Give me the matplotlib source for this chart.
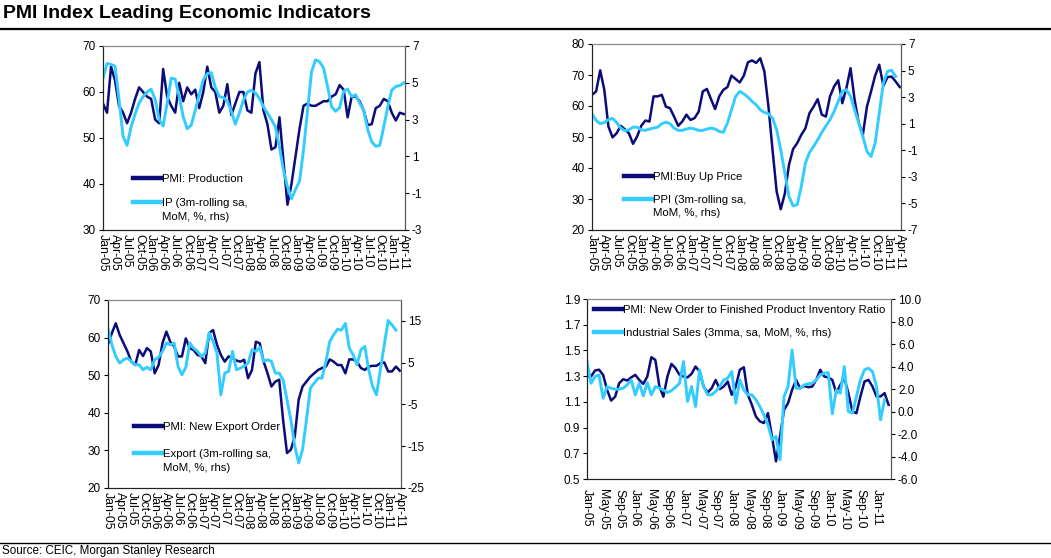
import numpy as np
import pandas as pd
import matplotlib
matplotlib.use("Agg")
import matplotlib.pyplot as plt
from matplotlib.legend import Legend

plt.rcParams['font.family'] = ['Liberation Sans', 'DejaVu Sans']
plt.rcParams['axes.unicode_minus'] = False

# monthly data, Jan-05 .. Apr-11
months = pd.date_range('2005-01-01', periods=76, freq='MS')
month_labels = [d.strftime('%b-%y') for d in months]

pmi_production = [57.5, 55.5, 65.5, 62.5, 57, 55.5, 53.2, 55.5, 58.5, 61,
                  60, 59, 58.5, 54, 53.2, 65, 59, 57, 55.5, 62,
                  58, 61, 59.5, 60.5, 56.5, 60, 65.5, 61, 60, 55.5,
                  57, 61.7, 55, 57.5, 60, 60, 56, 55.5, 64, 66.5,
                  56, 53, 47.5, 48, 54.5, 45, 35.5, 40, 46, 52,
                  57, 57.5, 57, 57, 57.5, 58, 58, 59, 59.5, 61.5,
                  60.5, 54.5, 59, 59, 58, 56, 52.8, 53, 56.5, 57,
                  58.5, 58, 55.5, 53.8, 55.5, 55.2]
ip_growth = [5.25, 6.05, 6.0, 5.9, 4.1, 2.1, 1.6, 2.6, 3.3, 3.9,
             4.25, 4.5, 4.65, 4.1, 3.0, 2.65, 3.9, 5.25, 5.2, 4.25,
             3.15, 2.5, 2.7, 3.5, 4.35, 5.15, 5.5, 5.55, 4.75, 4.25,
             4.2, 4.0, 3.45, 2.75, 3.35, 4.05, 4.5, 4.6, 4.45, 4.15,
             3.7, 3.35, 3.0, 2.6, 1.5, 0.25, -0.65, -1.3, -0.8, -0.35,
             1.35, 3.5, 5.6, 6.25, 6.15, 5.8, 4.8, 3.7, 3.45, 3.65,
             4.55, 4.65, 4.25, 4.35, 3.9, 3.5, 2.45, 1.8, 1.55, 1.6,
             2.6, 3.7, 4.6, 4.8, 4.85, 5.0]

pmi_buy_price = [63.6, 64.7, 71.5, 65.2, 53.4, 49.9, 51.2, 53.6, 52.5, 51.2,
                 47.8, 50.2, 53.6, 55.3, 55, 63.1, 63.1, 63.6, 59.8, 59.3,
                 56.6, 53.6, 55, 57.2, 55.5, 56.1, 58.2, 64.7, 65.5, 62.2,
                 59, 63.1, 65.2, 66.1, 69.8, 68.7, 67.6, 69.8, 74.1, 74.7,
                 73.9, 75.4, 71.2, 59.8, 45.8, 32.4, 26.7, 31.8, 41, 46.1,
                 48, 50.7, 52.8, 57.7, 59.8, 62.2, 57.2, 56.6, 63.1, 66.3,
                 68.3, 60.9, 65.8, 72.2, 62, 54.5, 50.7, 59.8, 64.7, 69.8,
                 73.3, 66.5, 69.3, 69.5, 67.9, 66.1]
ppi_growth = [1.75, 1.25, 1.0, 1.1, 1.3, 1.4, 1.1, 0.67, 0.47, 0.54,
              0.74, 0.74, 0.54, 0.5, 0.6, 0.67, 0.74, 1.0, 1.12, 1.0,
              0.67, 0.5, 0.5, 0.6, 0.67, 0.6, 0.5, 0.5, 0.6, 0.67,
              0.6, 0.42, 0.35, 1.05, 2.05, 3.05, 3.43, 3.25, 3.0, 2.68,
              2.43, 2.05, 1.85, 1.75, 1.42, 0.54, -0.97, -2.72, -4.48, -5.19,
              -5.1, -3.73, -1.97, -1.17, -0.71, -0.21, 0.34, 0.84, 1.3, 1.92,
              2.68, 3.43, 3.56, 3.06, 2.05, 1.05, 0.04, -1.09, -1.47, -0.46,
              1.8, 4.06, 4.94, 5.02, 4.56]

pmi_export_order = [58.3, 61.2, 63.8, 60.7, 58.5, 56.3, 53.6, 52.7, 56.7, 55.1,
                    57.2, 56.3, 50.5, 52.7, 58.5, 61.6, 58.9, 57.6, 55, 55,
                    59.8, 57.2, 56.7, 55.4, 55, 53.2, 61.2, 62, 58.1, 55.4,
                    53.6, 55, 54.5, 53.9, 53.6, 54.1, 49.2, 51.4, 58.9, 58.5,
                    53.6, 50.5, 47, 48.3, 48.8, 38.1, 29.3, 30.2, 33.7, 43.5,
                    47, 48.3, 49.6, 50.5, 51.4, 51.9, 52.3, 54.2, 53.6, 52.7,
                    52.7, 50.5, 54.2, 54.2, 53.6, 51.9, 51.4, 52.3, 52.5, 52.5,
                    53.2, 53.4, 51, 51, 52.3, 51.2]
export_growth = [13.2, 9.3, 6.5, 4.9, 5.7, 6.1, 5.3, 4.5, 4.5, 3.3,
                 3.9, 3.3, 5.7, 6.3, 7.7, 9.7, 9.3, 9.7, 4.1, 2.1,
                 3.9, 9.7, 8.5, 7.7, 6.5, 7.3, 12.1, 10.1, 7.3, -2.7,
                 2.5, 2.9, 7.7, 3.3, 3.7, 4.2, 4.9, 8.1, 7.7, 8.7,
                 5.3, 5.7, 5.3, 2.5, 2.5, 0.9, -3.9, -8.7, -15, -19,
                 -15.8, -8.7, -1.1, 0.1, 1.3, 1.3, 5.3, 10.1, 11.7, 13,
                 12.8, 14.4, 8.5, 6.9, 4.5, 8.1, 8.9, 3.3, -0.7, -2.7,
                 3.3, 9.3, 15.1, 14, 12.8]

pmi_order_inventory = [1.302, 1.297, 1.344, 1.35, 1.31, 1.193, 1.11, 1.14, 1.245, 1.276,
                       1.266, 1.29, 1.31, 1.27, 1.24, 1.297, 1.447, 1.426, 1.219, 1.14,
                       1.297, 1.395, 1.362, 1.31, 1.297, 1.29, 1.318, 1.375, 1.336, 1.219,
                       1.173, 1.206, 1.27, 1.199, 1.219, 1.258, 1.155, 1.219, 1.349, 1.369,
                       1.155, 1.077, 0.986, 0.948, 0.935, 1.012, 0.831, 0.637, 0.831, 1.038,
                       1.09, 1.193, 1.271, 1.206, 1.224, 1.214, 1.219, 1.271, 1.349, 1.297,
                       1.29, 1.271, 1.168, 1.232, 1.284, 1.168, 1.025, 1.012, 1.142, 1.258,
                       1.271, 1.219, 1.142, 1.142, 1.168, 1.077]
industrial_sales = [4.44, 2.51, 3.1, 3.25, 1.18, 2.22, 2.07, 1.98,
                    1.98, 2.07, 2.37, 2.81, 1.48, 2.51, 1.39, 2.57, 1.48, 2.22,
                    2.07, 1.92, 1.69, 1.86, 2.16, 2.51, 4.44, 0.89, 2.22, 0.44,
                    3.7, 2.22, 1.48, 1.48, 1.78, 2.22, 2.81, 2.96, 3.55, 0.74,
                    2.81, 1.92, 1.48, 1.48, 1.04, 0.44, -0.3, -1.18, -2.51, -2.22,
                    -4.29, 1.33, 2.22, 5.47, 2.07, 2.07, 2.37, 2.46, 2.51, 2.81,
                    3.25, 3.4, 3.46, -0.21, 1.92, 1.63, 3.99, 0.0, -0.15, 1.33,
                    2.81, 3.7, 3.85, 3.55, 2.22, -0.74, 1.04]

DARK = '#0b0b7a'
LIGHT = '#33ccff'
W, H = 1051, 558


def rect(l, r, t, b):
    return [l / W, 1 - b / H, (r - l) / W, (b - t) / H]


def panel(box, left, right, rows, lylim, lyticks, rylim, ryticks, step, xmax,
          legx, fmt=None, labelpad=3):
    l, r, t, b = box
    ax = fig.add_axes(rect(*box))
    ax2 = ax.twinx()
    x = np.arange(len(months))
    l1, = ax.plot(x[:len(left)], left, color=DARK, lw=1.8)
    l2, = ax2.plot(x[:len(right)], right, color=LIGHT, lw=2.1)
    ax.set_xlim(0, xmax)
    ax.set_ylim(*lylim)
    ax.set_yticks(lyticks)
    ax2.set_ylim(*rylim)
    ax2.set_yticks(ryticks)
    if fmt:
        ax.set_yticklabels([fmt % v for v in lyticks])
        ax2.set_yticklabels([fmt % v for v in ryticks])
    pos = list(range(0, len(months), step))
    ax.set_xticks(pos)
    ax.set_xticklabels([month_labels[p] for p in pos], rotation=270)
    for a in (ax, ax2):
        a.tick_params(labelsize=8.5, length=3, width=0.8, colors='black', pad=2)
        a.spines['top'].set_color('#888888')
        a.spines['right'].set_color('#555555')
        a.spines['left'].set_color('#222222')
        a.spines['bottom'].set_color('#222222')
    ax.tick_params(axis='x', length=0, pad=labelpad, labelsize=8.8)
    # legend rows: (series index or None, text, row centre in pixels)
    handles = {0: l1, 1: l2}
    for which, text, ypx in rows:
        h = handles[which] if which is not None else plt.Line2D([], [], color='none')
        leg = Legend(ax2, [h], [text], loc='center left',
                     bbox_to_anchor=((legx - l) / (r - l), (b - ypx) / (b - t)),
                     frameon=False, fontsize=8.2, handlelength=2.5, handletextpad=0.05,
                     borderpad=0, borderaxespad=0)
        for hl in leg.get_lines():
            hl.set_linewidth(3.2)
        ax2.add_artist(leg)
    return ax, ax2


fig = plt.figure(figsize=(W / 100, H / 100), dpi=100)

fig.text(3 / W, 1 - 14 / H, 'PMI Index Leading Economic Indicators', fontsize=14,
         fontweight='bold', va='center', ha='left')
fig.add_artist(plt.Line2D([0, 1], [1 - 28.5 / H, 1 - 28.5 / H], color='black', lw=1.6))
fig.add_artist(plt.Line2D([0, 1], [1 - 543 / H, 1 - 543 / H], color='black', lw=1.0))
fig.text(2 / W, 1 - 557 / H, 'Source: CEIC, Morgan Stanley Research', fontsize=8.4,
         va='bottom', ha='left')

panel((103, 405, 46, 230), pmi_production, ip_growth,
      [(0, 'PMI: Production', 179), (1, 'IP (3m-rolling sa,', 203), (None, 'MoM, %, rhs)', 217)],
      (30, 70), [30, 40, 50, 60, 70], (-3, 7), [-3, -1, 1, 3, 5, 7], 3, 75.3, 133)
panel((592, 901, 44, 230), pmi_buy_price, ppi_growth,
      [(0, 'PMI:Buy Up Price', 177), (1, 'PPI (3m-rolling sa,', 200), (None, 'MoM, %, rhs)', 213)],
      (20, 80), [20, 30, 40, 50, 60, 70, 80], (-7, 7), [-7, -5, -3, -1, 1, 3, 5, 7], 3, 75.3, 624)
panel((108, 401, 300, 488), pmi_export_order, export_growth,
      [(0, 'PMI: New Export Order', 427), (1, 'Export (3m-rolling sa,', 454), (None, 'MoM, %, rhs)', 468)],
      (20, 70), [20, 30, 40, 50, 60, 70], (-25, 20), [-25, -15, -5, 5, 15], 3, 75.3, 134)
panel((587, 891, 299, 479), pmi_order_inventory, industrial_sales,
      [(0, 'PMI: New Order to Finished Product Inventory Ratio', 310),
       (1, 'Industrial Sales (3mma, sa, MoM, %, rhs)', 333)],
      (0.5, 1.9), [0.5, 0.7, 0.9, 1.1, 1.3, 1.5, 1.7, 1.9], (-6, 10),
      [-6, -4, -2, 0, 2, 4, 6, 8, 10], 4, 75.6, 594, fmt='%.1f', labelpad=7)

fig.savefig('out.png', dpi=100)
